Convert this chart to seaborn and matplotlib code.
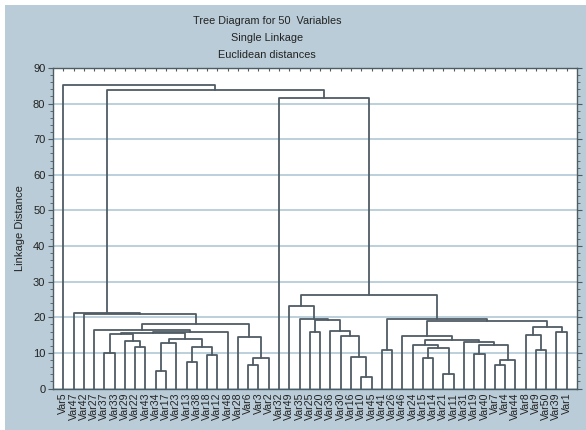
import matplotlib
matplotlib.use("Agg")
import matplotlib.pyplot as plt
from matplotlib.patches import Rectangle
from matplotlib.ticker import MultipleLocator
import numpy as np
import pandas as pd
import seaborn as sns

# Leaf order along the x axis
leaf_labels = [
    "Var5", "Var47", "Var42", "Var27", "Var37", "Var33", "Var29", "Var22", "Var43", "Var34",
    "Var17", "Var23", "Var13", "Var38", "Var18", "Var12", "Var48", "Var28", "Var6", "Var3",
    "Var2", "Var32", "Var49", "Var35", "Var25", "Var20", "Var36", "Var30", "Var16", "Var10",
    "Var45", "Var41", "Var26", "Var46", "Var24", "Var15", "Var14", "Var21", "Var11", "Var31",
    "Var19", "Var40", "Var7", "Var4", "Var44", "Var8", "Var9", "Var50", "Var39", "Var1",
]

# Merge steps: ids < 50 are leaves (by position), ids >= 50 are earlier merges
merge_left = [4, 7, 6, 50, 9, 54, 12, 14, 56, 55, 53, 60, 3, 18, 63, 17, 62, 2, 1,
              29, 28, 27, 26, 24, 73, 23, 22, 31,
              35, 37, 78, 34, 40, 42, 83, 82, 39, 81, 33,
              46, 45, 48, 90, 88, 77, 76, 21, 68, 0]
merge_right = [5, 8, 51, 52, 10, 11, 13, 15, 57, 58, 59, 16, 61, 19, 20, 64, 65, 66, 67,
               30, 69, 70, 71, 25, 72, 74, 75, 32,
               36, 38, 79, 80, 41, 43, 44, 84, 85, 86, 87,
               47, 89, 49, 91, 92, 93, 94, 95, 96, 97]
merge_height = [10.0, 11.6, 13.3, 15.2, 5.0, 12.8, 7.4, 9.4, 11.6, 14.0, 15.6, 15.9, 16.4,
                6.5, 8.6, 14.4, 18.0, 20.9, 21.2,
                3.3, 8.8, 14.9, 16.3, 15.8, 19.2, 19.6, 23.2, 10.9,
                8.5, 4.0, 11.4, 12.2, 9.7, 6.5, 8.0, 12.1, 13.2, 13.7, 14.8,
                10.7, 15.1, 15.8, 17.4, 19.1, 19.6, 26.3, 81.6, 83.8, 85.1]

bg = "#b9ccd7"
line_c = "#4f5c64"
grid_c = "#bcd0dc"

n = len(leaf_labels)
pos = {i: float(i + 1) for i in range(n)}
hgt = {i: 0.0 for i in range(n)}

rows = []
for j, (a, b, h) in enumerate(zip(merge_left, merge_right, merge_height)):
    xa, xb = pos[a], pos[b]
    for px, py in [(xa, hgt[a]), (xa, h), (xb, h), (xb, hgt[b])]:
        rows.append({"seg": j, "x": px, "y": py})
    pos[n + j] = (xa + xb) / 2
    hgt[n + j] = h
segs = pd.DataFrame(rows)

sns.set_theme(style="white")
plt.rcParams["font.family"] = ["Liberation Sans", "DejaVu Sans"]

W, H = 586, 430
fig = plt.figure(figsize=(W / 100, H / 100), dpi=100)
fig.patch.set_facecolor("white")
fig.add_artist(Rectangle((5 / W, 0), 1 - 5 / W, 1 - 5 / H, transform=fig.transFigure,
                         facecolor=bg, edgecolor="none", zorder=0))

left, right, top, bottom = 53, 577, 68, 388.6
ax = fig.add_axes([left / W, 1 - bottom / H, (right - left) / W, (bottom - top) / H])
ax.set_facecolor("white")

sns.lineplot(data=segs, x="x", y="y", units="seg", estimator=None, sort=False,
             color=line_c, linewidth=1.3, ax=ax, zorder=3)

ax.set_xlim(0, n + 1)
ax.set_ylim(0, 90)
ax.yaxis.set_major_locator(MultipleLocator(10))
ax.yaxis.set_minor_locator(MultipleLocator(2))
ax.grid(axis="y", which="major", color=grid_c, linewidth=1.4, zorder=0)
ax.set_axisbelow(True)

ax.set_xticks(np.arange(1, n + 1))
ax.set_xticklabels(leaf_labels, rotation=90, fontsize=7.6, color="#222222")
ax.tick_params(axis="x", which="both", direction="in", length=2.5, width=0.8,
               top=True, bottom=False, pad=3, colors=line_c, labelcolor="#222222")
ax.tick_params(axis="y", which="major", direction="out", length=3.5, width=0.8,
               right=True, left=True, labelsize=8, pad=2, colors=line_c, labelcolor="#222222")
ax.tick_params(axis="y", which="minor", direction="out", length=2, width=0.6,
               right=True, left=True, colors=line_c)

for s in ax.spines.values():
    s.set_color(line_c)
    s.set_linewidth(1.0)

ax.set_xlabel("")
ax.set_ylabel("Linkage Distance", fontsize=8, color="#222222", labelpad=6)

title_x = 267 / W
fig.text(title_x, 1 - 21 / H, "Tree Diagram for 50  Variables", ha="center", va="center",
         fontsize=7.8, color="#222222")
fig.text(title_x, 1 - 38 / H, "Single Linkage", ha="center", va="center",
         fontsize=7.8, color="#222222")
fig.text(title_x, 1 - 54.5 / H, "Euclidean distances", ha="center", va="center",
         fontsize=7.8, color="#222222")

fig.savefig("out.png", dpi=100, facecolor=fig.get_facecolor())
